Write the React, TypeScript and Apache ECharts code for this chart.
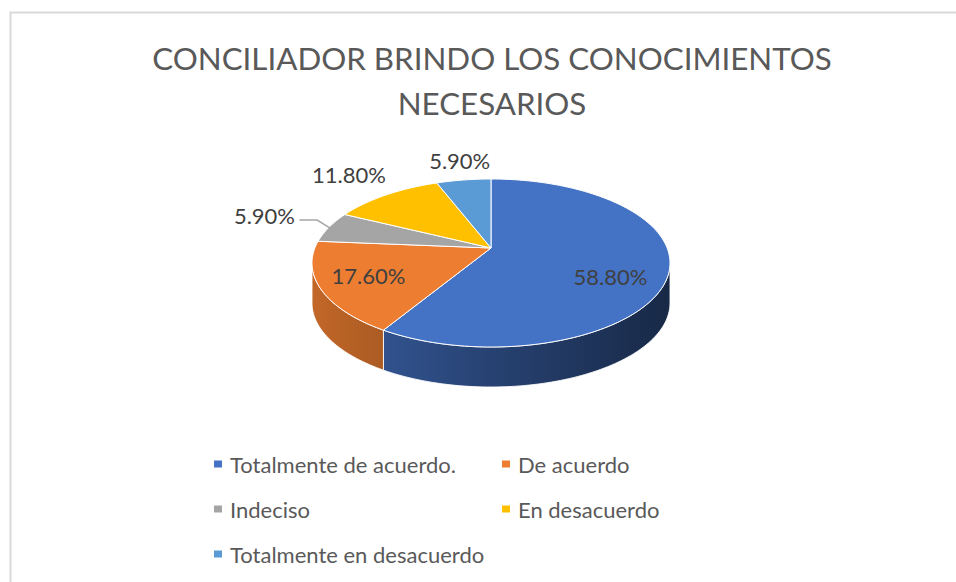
import React, { useEffect, useRef } from 'react';
import * as echarts from 'echarts';

// ---- data ----
const CATEGORIES = [
  'Totalmente de acuerdo.',
  'De acuerdo',
  'Indeciso',
  'En desacuerdo',
  'Totalmente en desacuerdo',
];
const VALUES = [58.8, 17.6, 5.9, 11.8, 5.9];
const COLORS = ['#4472C4', '#ED7D31', '#A5A5A5', '#FFC000', '#5B9BD5'];
const TITLE_TEXT = 'CONCILIADOR BRINDO LOS CONOCIMIENTOS\nNECESARIOS';

// ---- geometry / style (not data) ----
const CX = 491;
const CY = 263;
const RX = 179;
const RY = 84;
const DEPTH = 40;
const APEX_Y = 248;
const WARP = 10; // perspective distortion of slice angles (deg)
const LABEL_OFFSET = [
  [-58.5, 4.5],
  [48, -13.5],
  [-64.7, -12.1],
  [-37.5, -20.3],
  [-4, -19],
];
const LEADER = [false, false, true, false, false];
const FONT = 'Lato, "Open Sans", sans-serif';

const TOTAL = VALUES.reduce((a, b) => a + b, 0);
const STARTS: number[] = [];
VALUES.reduce((acc, v) => {
  STARTS.push(acc);
  return acc + v;
}, 0);

const warp = (deg: number) => deg - WARP * Math.sin((deg * Math.PI) / 180);
const rim = (phi: number, off = 0) => {
  const r = (phi * Math.PI) / 180;
  return [CX + RX * Math.sin(r), CY - RY * Math.cos(r) + off];
};
const arcPts = (a: number, b: number, off: number) => {
  const n = Math.max(2, Math.ceil(Math.abs(b - a) / 1.5));
  const pts: number[][] = [];
  for (let k = 0; k <= n; k++) pts.push(rim(a + ((b - a) * k) / n, off));
  return pts;
};
const shade = (hex: string, f: number) => {
  const n = parseInt(hex.slice(1), 16);
  const r = Math.round(((n >> 16) & 255) * f);
  const g = Math.round(((n >> 8) & 255) * f);
  const b = Math.round((n & 255) * f);
  return `rgb(${r},${g},${b})`;
};

function renderItem(params: any, api: any) {
  const i = params.dataIndex;
  const v = api.value(0);
  const t0 = (STARTS[i] / TOTAL) * 360;
  const t1 = t0 + (v / TOTAL) * 360;
  const p0 = warp(t0);
  const p1 = warp(t1);
  const children: any[] = [];

  const a = Math.max(p0, 90);
  const b = Math.min(p1, 270);
  if (b > a) {
    const pts = [...arcPts(a, b, 0), ...arcPts(b, a, DEPTH)];
    children.push({
      type: 'polygon',
      shape: { points: pts },
      style: {
        fill: new echarts.graphic.LinearGradient(
          CX - RX,
          0,
          CX + RX,
          0,
          [
            { offset: 0, color: shade(COLORS[i], 0.82) },
            { offset: 0.5, color: shade(COLORS[i], 0.58) },
            { offset: 1, color: shade(COLORS[i], 0.36) },
          ],
          true
        ),
        stroke: 'rgba(255,255,255,0.85)',
        lineWidth: 1,
      },
    });
  }

  children.push({
    type: 'polygon',
    shape: { points: [[CX, APEX_Y], ...arcPts(p0, p1, 0)] },
    style: { fill: COLORS[i], stroke: '#ffffff', lineWidth: 1 },
  });

  const mid = warp((t0 + t1) / 2);
  const rp = rim(mid, 0);
  const lx = rp[0] + LABEL_OFFSET[i][0];
  const ly = rp[1] + LABEL_OFFSET[i][1];
  if (LEADER[i]) {
    children.push({
      type: 'polyline',
      shape: { points: [[rp[0] + 1, rp[1] + 1], [rp[0] - 12, ly + 5], [lx + 35, ly + 5]] },
      style: { stroke: '#A6A6A6', lineWidth: 1.5, fill: 'none' },
      z2: 5,
    });
  }
  children.push({
    type: 'text',
    z2: 10,
    style: {
      text: v.toFixed(2) + '%',
      x: lx,
      y: ly,
      fill: '#404040',
      fontSize: 22,
      fontFamily: FONT,
      align: 'center',
      verticalAlign: 'middle',
      textAlign: 'center',
      textVerticalAlign: 'middle',
    },
  });
  return { type: 'group', children };
}

export default function App() {
  const ref = useRef<HTMLDivElement>(null);
  useEffect(() => {
    document.body.style.margin = '0';
    if (!ref.current) return;
    const chart = echarts.init(ref.current, null, { renderer: 'svg' });
    const legendText = {
      fontSize: 22,
      fontFamily: FONT,
      color: '#595959',
      lineHeight: 22,
      padding: [0, 0, 0, 3],
    };
    chart.setOption({
      animation: false,
      color: COLORS,
      backgroundColor: '#ffffff',
      title: {
        text: TITLE_TEXT,
        left: 487,
        top: 30,
        textAlign: 'center',
        textStyle: {
          fontSize: 31.3,
          fontWeight: 'normal',
          fontFamily: FONT,
          color: '#595959',
          lineHeight: 45,
        },
      },
      legend: [
        {
          data: [CATEGORIES[0], CATEGORIES[2], CATEGORIES[4]],
          orient: 'vertical',
          left: 209,
          top: 448,
          itemWidth: 8,
          itemHeight: 7,
          itemGap: 23,
          icon: 'rect',
          selectedMode: false,
          textStyle: legendText,
        },
        {
          data: [CATEGORIES[1], CATEGORIES[3]],
          orient: 'vertical',
          left: 497,
          top: 448,
          itemWidth: 8,
          itemHeight: 7,
          itemGap: 23,
          icon: 'rect',
          selectedMode: false,
          textStyle: legendText,
        },
      ],
      graphic: [
        {
          type: 'rect',
          shape: { x: 10.5, y: 12.5, width: 1000, height: 700 },
          style: { fill: 'none', stroke: '#D9D9D9', lineWidth: 2 },
          silent: true,
        },
      ],
      series: [
        {
          type: 'pie',
          name: 'legend',
          center: [-100, -100],
          radius: [0, 1],
          silent: true,
          label: { show: false },
          labelLine: { show: false },
          data: CATEGORIES.map((c, i) => ({ name: c, value: VALUES[i] })),
        },
        {
          type: 'custom',
          name: 'pie3d',
          coordinateSystem: 'none',
          renderItem,
          data: VALUES.map((v) => [v]),
          silent: true,
        },
      ],
    });
    return () => chart.dispose();
  }, []);
  return <div ref={ref} style={{ width: 956, height: 582 }} />;
}
